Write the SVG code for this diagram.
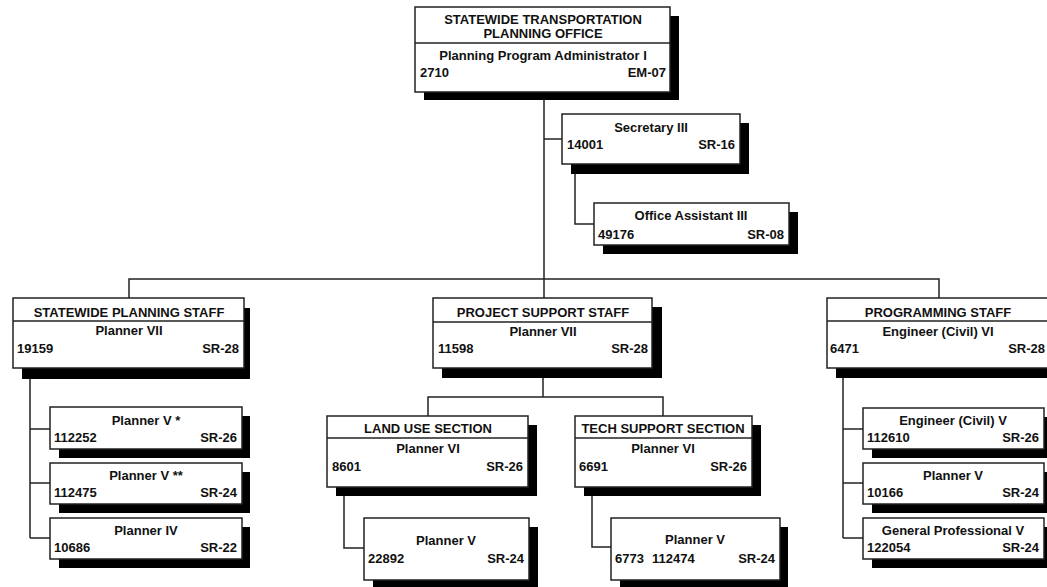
<svg xmlns="http://www.w3.org/2000/svg" width="1047" height="587" viewBox="0 0 1047 587">
<style>
.sh{fill:#000}
.bx{fill:#fff;stroke:#222;stroke-width:1.5}
.dv{stroke:#222;stroke-width:1.5}
.cn{fill:none;stroke:#222;stroke-width:1.5}
text{font-family:"Liberation Sans",Arial,sans-serif;font-weight:bold;font-size:13px;fill:#111}
.c{text-anchor:middle}
.r{text-anchor:end}
</style>
<rect width="1047" height="587" fill="#fff"/>
<g id="connectors">
<path class="cn" d="M544 99V298"/>
<path class="cn" d="M544 139H562"/>
<path class="cn" d="M575 173V224H594"/>
<path class="cn" d="M129 298V279H939V298"/>
<path class="cn" d="M30 377V538M30 429H50M30 483H50M30 538H50"/>
<path class="cn" d="M543 377V397M428 416V397H663V416"/>
<path class="cn" d="M344 496V548H364"/>
<path class="cn" d="M592 496V547H611"/>
<path class="cn" d="M843 377V538M843 429H863M843 483H863M843 538H863"/>
</g>
<g id="n-top">
<rect class="sh" x="424" y="16" width="255" height="84"/>
<rect class="bx" x="415" y="7" width="255" height="85"/>
<line class="dv" x1="415" y1="43" x2="670" y2="43"/>
<text class="c" x="543" y="24">STATEWIDE TRANSPORTATION</text>
<text class="c" x="543" y="38">PLANNING OFFICE</text>
<text class="c" x="543" y="60">Planning Program Administrator I</text>
<text x="420" y="77">2710</text>
<text class="r" x="666" y="77">EM-07</text>
</g>
<g id="n-secretary">
<rect class="sh" x="571" y="123" width="178" height="51"/>
<rect class="bx" x="562" y="114" width="178" height="50"/>
<text class="c" x="651" y="132">Secretary III</text>
<text x="567" y="149">14001</text>
<text class="r" x="735" y="149">SR-16</text>
</g>
<g id="n-office">
<rect class="sh" x="603" y="212" width="195" height="42"/>
<rect class="bx" x="594" y="203" width="195" height="42"/>
<text class="c" x="691" y="220">Office Assistant III</text>
<text x="598" y="239">49176</text>
<text class="r" x="784" y="239">SR-08</text>
</g>
<g id="n-statewide">
<rect class="sh" x="22" y="308" width="228" height="71"/>
<rect class="bx" x="13" y="298" width="231" height="70"/>
<line class="dv" x1="13" y1="321" x2="244" y2="321"/>
<text class="c" x="129" y="317">STATEWIDE PLANNING STAFF</text>
<text class="c" x="129" y="335">Planner VII</text>
<text x="17" y="353">19159</text>
<text class="r" x="239" y="353">SR-28</text>
</g>
<g id="n-project">
<rect class="sh" x="442" y="307" width="220" height="71"/>
<rect class="bx" x="433" y="298" width="219" height="70"/>
<line class="dv" x1="433" y1="322" x2="652" y2="322"/>
<text class="c" x="543" y="317">PROJECT SUPPORT STAFF</text>
<text class="c" x="543" y="336">Planner VII</text>
<text x="438" y="353">11598</text>
<text class="r" x="648" y="353">SR-28</text>
</g>
<g id="n-programming">
<rect class="sh" x="836" y="307" width="222" height="71"/>
<rect class="bx" x="827" y="298" width="222" height="70"/>
<line class="dv" x1="827" y1="321" x2="1049" y2="321"/>
<text class="c" x="938" y="317">PROGRAMMING STAFF</text>
<text class="c" x="938" y="336">Engineer (Civil) VI</text>
<text x="830" y="353">6471</text>
<text class="r" x="1045" y="353">SR-28</text>
</g>
<g id="n-sw1">
<rect class="sh" x="59" y="416" width="191" height="42"/>
<rect class="bx" x="50" y="407" width="192" height="42"/>
<text class="c" x="146" y="425">Planner V *</text>
<text x="54" y="442">112252</text>
<text class="r" x="237" y="442">SR-26</text>
</g>
<g id="n-sw2">
<rect class="sh" x="59" y="472" width="191" height="41"/>
<rect class="bx" x="50" y="463" width="192" height="41"/>
<text class="c" x="146" y="480">Planner V **</text>
<text x="54" y="497">112475</text>
<text class="r" x="237" y="497">SR-24</text>
</g>
<g id="n-sw3">
<rect class="sh" x="59" y="527" width="191" height="41"/>
<rect class="bx" x="50" y="518" width="192" height="41"/>
<text class="c" x="146" y="535">Planner IV</text>
<text x="54" y="552">10686</text>
<text class="r" x="237" y="552">SR-22</text>
</g>
<g id="n-landuse">
<rect class="sh" x="336" y="425" width="201" height="71"/>
<rect class="bx" x="327" y="416" width="201" height="71"/>
<line class="dv" x1="327" y1="438" x2="528" y2="438"/>
<text class="c" x="428" y="433">LAND USE SECTION</text>
<text class="c" x="428" y="453">Planner VI</text>
<text x="332" y="471">8601</text>
<text class="r" x="523" y="471">SR-26</text>
</g>
<g id="n-tech">
<rect class="sh" x="584" y="425" width="177" height="71"/>
<rect class="bx" x="575" y="416" width="177" height="71"/>
<line class="dv" x1="575" y1="438" x2="752" y2="438"/>
<text class="c" x="663" y="433">TECH SUPPORT SECTION</text>
<text class="c" x="663" y="453">Planner VI</text>
<text x="579" y="471">6691</text>
<text class="r" x="747" y="471">SR-26</text>
</g>
<g id="n-lu-planner">
<rect class="sh" x="373" y="527" width="165" height="62"/>
<rect class="bx" x="364" y="518" width="165" height="62"/>
<text class="c" x="446" y="545">Planner V</text>
<text x="368" y="563">22892</text>
<text class="r" x="524" y="563">SR-24</text>
</g>
<g id="n-ts-planner">
<rect class="sh" x="620" y="527" width="168" height="62"/>
<rect class="bx" x="611" y="518" width="169" height="62"/>
<text class="c" x="695" y="544">Planner V</text>
<text x="615" y="563">6773</text>
<text x="652" y="563">112474</text>
<text class="r" x="775" y="563">SR-24</text>
</g>
<g id="n-pg1">
<rect class="sh" x="872" y="417" width="181" height="41"/>
<rect class="bx" x="863" y="408" width="181" height="41"/>
<text class="c" x="953" y="425">Engineer (Civil) V</text>
<text x="867" y="442">112610</text>
<text class="r" x="1039" y="442">SR-26</text>
</g>
<g id="n-pg2">
<rect class="sh" x="872" y="472" width="181" height="41"/>
<rect class="bx" x="863" y="463" width="181" height="41"/>
<text class="c" x="953" y="480">Planner V</text>
<text x="867" y="497">10166</text>
<text class="r" x="1039" y="497">SR-24</text>
</g>
<g id="n-pg3">
<rect class="sh" x="872" y="527" width="181" height="41"/>
<rect class="bx" x="863" y="518" width="181" height="41"/>
<text class="c" x="953" y="535">General Professional V</text>
<text x="867" y="552">122054</text>
<text class="r" x="1039" y="552">SR-24</text>
</g>
</svg>
